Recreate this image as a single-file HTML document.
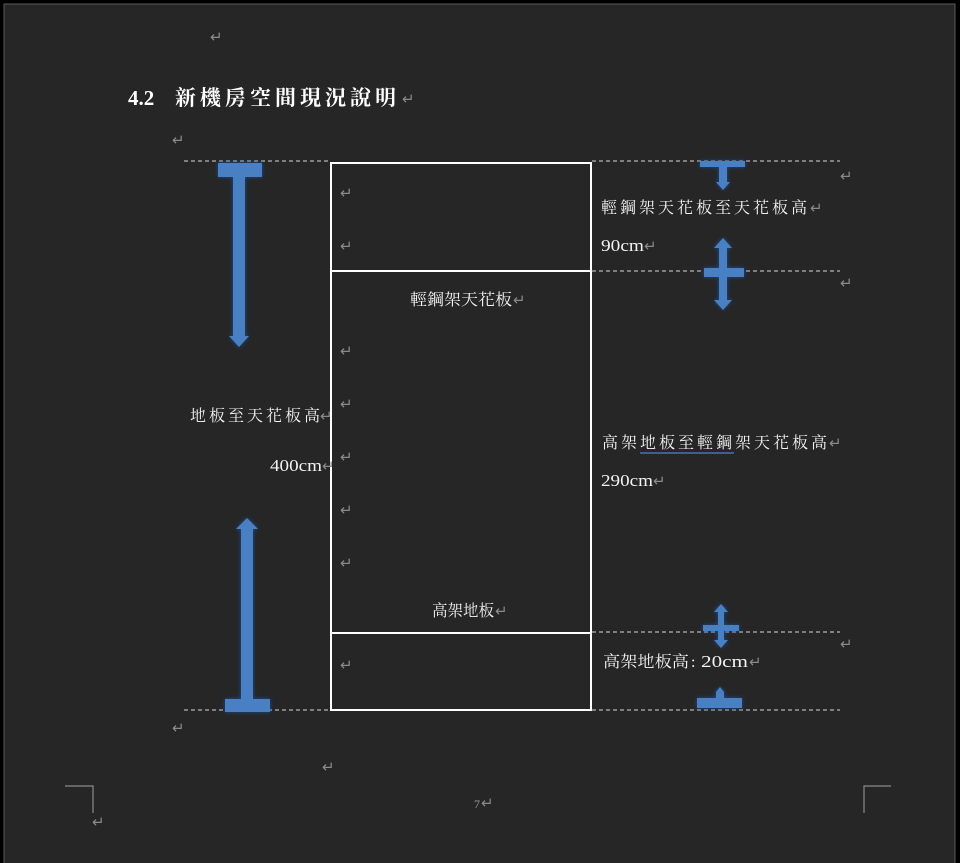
<!DOCTYPE html>
<html><head><meta charset="utf-8">
<style>
html,body{margin:0;padding:0;background:#000;}
body{width:960px;height:863px;overflow:hidden;}
svg{display:block;}
text{font-family:"Liberation Serif","Noto Serif CJK TC","Noto Serif CJK SC",serif;}
.t{fill:#f2f2f2;font-size:16px;letter-spacing:3px;}
.m{fill:#8a8a8a;font-size:15px;font-family:"DejaVu Sans",sans-serif;}
</style></head><body>
<svg width="960" height="863" viewBox="0 0 960 863" xmlns="http://www.w3.org/2000/svg">
<defs>
<filter id="g" x="-50%" y="-50%" width="200%" height="200%">
<feGaussianBlur in="SourceAlpha" stdDeviation="2.5" result="b"/>
<feFlood flood-color="#1d4f99" flood-opacity="0.9"/>
<feComposite in2="b" operator="in" result="c"/>
<feMerge><feMergeNode in="c"/><feMergeNode in="SourceGraphic"/></feMerge>
</filter>
</defs>
<rect x="0" y="0" width="960" height="863" fill="#000"/>
<rect x="4" y="4" width="951" height="870" fill="#262626" stroke="#5a5a5a" stroke-width="1"/>

<path d="M65 786 H93 V813" fill="none" stroke="#8a8a8a" stroke-width="1.2"/>
<path d="M891 786 H864 V813" fill="none" stroke="#8a8a8a" stroke-width="1.2"/>

<text x="128" y="105" fill="#fff" font-size="21" font-weight="bold">4.2</text>
<text x="175" y="105" fill="#fff" font-size="21" font-weight="bold" letter-spacing="4">新機房空間現況說明</text>
<text x="402" y="104" class="m">↵</text>
<text x="210" y="42" class="m">↵</text>
<text x="172" y="145" class="m">↵</text>

<g stroke="#d8d8d8" stroke-width="1" stroke-dasharray="4,3">
<line x1="184" y1="161" x2="330" y2="161"/>
<line x1="592" y1="161" x2="840" y2="161"/>
<line x1="592" y1="271" x2="840" y2="271"/>
<line x1="592" y1="632" x2="840" y2="632"/>
<line x1="184" y1="710" x2="330" y2="710"/>
<line x1="592" y1="710" x2="840" y2="710"/>
</g>

<g fill="none" stroke="#ffffff" stroke-width="2">
<rect x="331" y="163" width="260" height="108"/>
<rect x="331" y="271" width="260" height="362"/>
<rect x="331" y="633" width="260" height="77"/>
</g>

<g fill="#4a80c4" filter="url(#g)">
<rect x="218" y="163" width="44" height="14"/>
<path d="M233 177 H245 V336 H249 L239 347 L229 336 H233 Z"/>
<path d="M241 700 V529 H236 L247 518 L258 529 H253 V700 Z"/>
<rect x="225" y="699" width="45" height="13"/>
<rect x="700" y="161" width="45" height="6"/>
<path d="M719 167 H727 V182 H730 L723 190 L716 182 H719 Z"/>
<path d="M723 238 L732 248 H727 V300 H732 L723 310 L714 300 H719 V248 H714 Z"/>
<rect x="704" y="268" width="40" height="9"/>
<path d="M721 604 L728 612 H724 V640 H728 L721 648 L714 640 H718 V612 H714 Z"/>
<rect x="703" y="625" width="36" height="6"/>
<path d="M716 698 V692 L720 687 L724 692 V698 Z"/>
<rect x="697" y="698" width="45" height="10"/>
</g>

<text x="340" y="198" class="m">↵</text>
<text x="340" y="251" class="m">↵</text>
<text x="340" y="356" class="m">↵</text>
<text x="340" y="409" class="m">↵</text>
<text x="340" y="462" class="m">↵</text>
<text x="340" y="515" class="m">↵</text>
<text x="340" y="568" class="m">↵</text>
<text x="340" y="670" class="m" font-size="18">↵</text>

<text x="410" y="305" fill="#f2f2f2" font-size="16" textLength="102" lengthAdjust="spacingAndGlyphs">輕鋼架天花板</text>
<text x="513" y="305" class="m" font-size="12">↵</text>
<text x="432" y="616" fill="#f2f2f2" font-size="16" textLength="62" lengthAdjust="spacingAndGlyphs">高架地板</text>
<text x="495" y="616" class="m" font-size="12">↵</text>

<text x="190" y="421" class="t">地板至天花板高</text>
<text x="320" y="421" class="m" font-size="12">↵</text>
<text x="270" y="471" fill="#f2f2f2" font-size="17" textLength="52" lengthAdjust="spacingAndGlyphs">400cm</text>
<text x="322" y="471" class="m" font-size="12">↵</text>

<text x="601" y="213" class="t">輕鋼架天花板至天花板高</text>
<text x="810" y="213" class="m" font-size="12">↵</text>
<text x="601" y="251" fill="#f2f2f2" font-size="17" textLength="43" lengthAdjust="spacingAndGlyphs">90cm</text>
<text x="644" y="251" class="m" font-size="12">↵</text>

<text x="602" y="448" class="t">高架地板至輕鋼架天花板高</text>
<text x="829" y="448" class="m" font-size="12">↵</text>
<line x1="640" y1="453" x2="734" y2="453" stroke="#4a6fc0" stroke-width="1.5"/>
<text x="601" y="486" fill="#f2f2f2" font-size="17" textLength="52" lengthAdjust="spacingAndGlyphs">290cm</text>
<text x="653" y="486" class="m" font-size="12">↵</text>

<text x="603" y="667" fill="#f2f2f2" font-size="16" textLength="86" lengthAdjust="spacingAndGlyphs">高架地板高</text>
<text x="691" y="667" fill="#f2f2f2" font-size="16">:</text>
<text x="701" y="667" fill="#f2f2f2" font-size="17" textLength="47" lengthAdjust="spacingAndGlyphs">20cm</text>
<text x="749" y="667" class="m" font-size="12">↵</text>

<text x="840" y="181" class="m" font-size="12">↵</text>
<text x="840" y="288" class="m" font-size="12">↵</text>
<text x="840" y="649" class="m" font-size="12">↵</text>

<text x="172" y="733" class="m">↵</text>
<text x="322" y="772" class="m">↵</text>
<text x="474" y="808" fill="#9a9a9a" font-size="12">7</text>
<text x="481" y="808" class="m" font-size="11">↵</text>
<text x="92" y="827" class="m" font-size="11">↵</text>
</svg>
</body></html>
